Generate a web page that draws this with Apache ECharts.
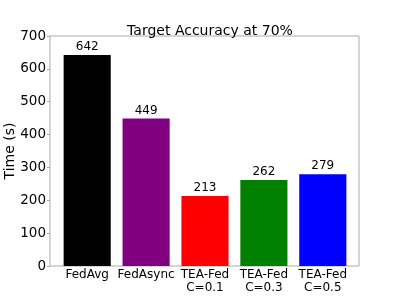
<!DOCTYPE html>
<html><head><meta charset="utf-8">
<script src="https://cdn.jsdelivr.net/npm/echarts@6/dist/echarts.min.js"></script>
<style>html,body{margin:0;padding:0;background:#fff}#c{width:399px;height:299px}</style>
</head><body><div id="c"></div>
<script>
const categories = ['FedAvg', 'FedAsync', 'TEA-Fed\nC=0.1', 'TEA-Fed\nC=0.3', 'TEA-Fed\nC=0.5'];
const times = [642, 449, 213, 262, 279];
const barColors = ['#000000', '#800080', '#ff0000', '#008000', '#0000ff'];
const yTicks = [0, 100, 200, 300, 400, 500, 600, 700];
const titleText = 'Target Accuracy at 70%';
const yName = 'Time (s)';

const font = 'DejaVu Sans';
const chart = echarts.init(document.getElementById('c'), null, {renderer: 'canvas'});
chart.setOption({
  animation: false,
  title: {text: titleText, left: 205, top: 19, textAlign: 'center',
    textStyle: {fontFamily: font, fontSize: 14, fontWeight: 'normal', color: '#000'}},
  grid: [
    {left: 57.75, right: 46.75, top: 36, bottom: 33, containLabel: false, outerBoundsMode: 'none'},
    {left: 50, right: 40, top: 36, bottom: 33, containLabel: false, outerBoundsMode: 'none',
      show: true, borderColor: '#aaaaaa', borderWidth: 1, backgroundColor: 'transparent'}
  ],
  xAxis: [
    {type: 'category', gridIndex: 0, data: categories, boundaryGap: true,
      axisLine: {show: false}, axisTick: {show: false},
      axisLabel: {fontFamily: font, fontSize: 12, color: '#000', margin: 2, lineHeight: 13.5, interval: 0}},
    {type: 'value', gridIndex: 1, show: false, min: 0, max: 1}
  ],
  yAxis: [
    {type: 'value', gridIndex: 0, min: yTicks[0], max: yTicks[yTicks.length-1], interval: 100, show: false},
    {type: 'value', gridIndex: 1, min: yTicks[0], max: yTicks[yTicks.length-1], interval: 100,
      name: yName, nameLocation: 'middle', nameGap: 33, nameMoveOverlap: false,
      nameTextStyle: {fontFamily: font, fontSize: 14, color: '#000'},
      axisLine: {show: false}, axisTick: {show: true, length: 3, lineStyle: {color: '#aaaaaa'}}, splitLine: {show: false},
      axisLabel: {fontFamily: font, fontSize: 13.5, color: '#000', margin: 4}}
  ],
  series: [{
    type: 'bar', xAxisIndex: 0, yAxisIndex: 0, barWidth: '80%',
    data: times.map((v, i) => ({value: v, itemStyle: {color: barColors[i]}})),
    label: {show: true, position: 'top', distance: 2, fontFamily: font, fontSize: 12, color: '#000'}
  }]
});
</script></body></html>
